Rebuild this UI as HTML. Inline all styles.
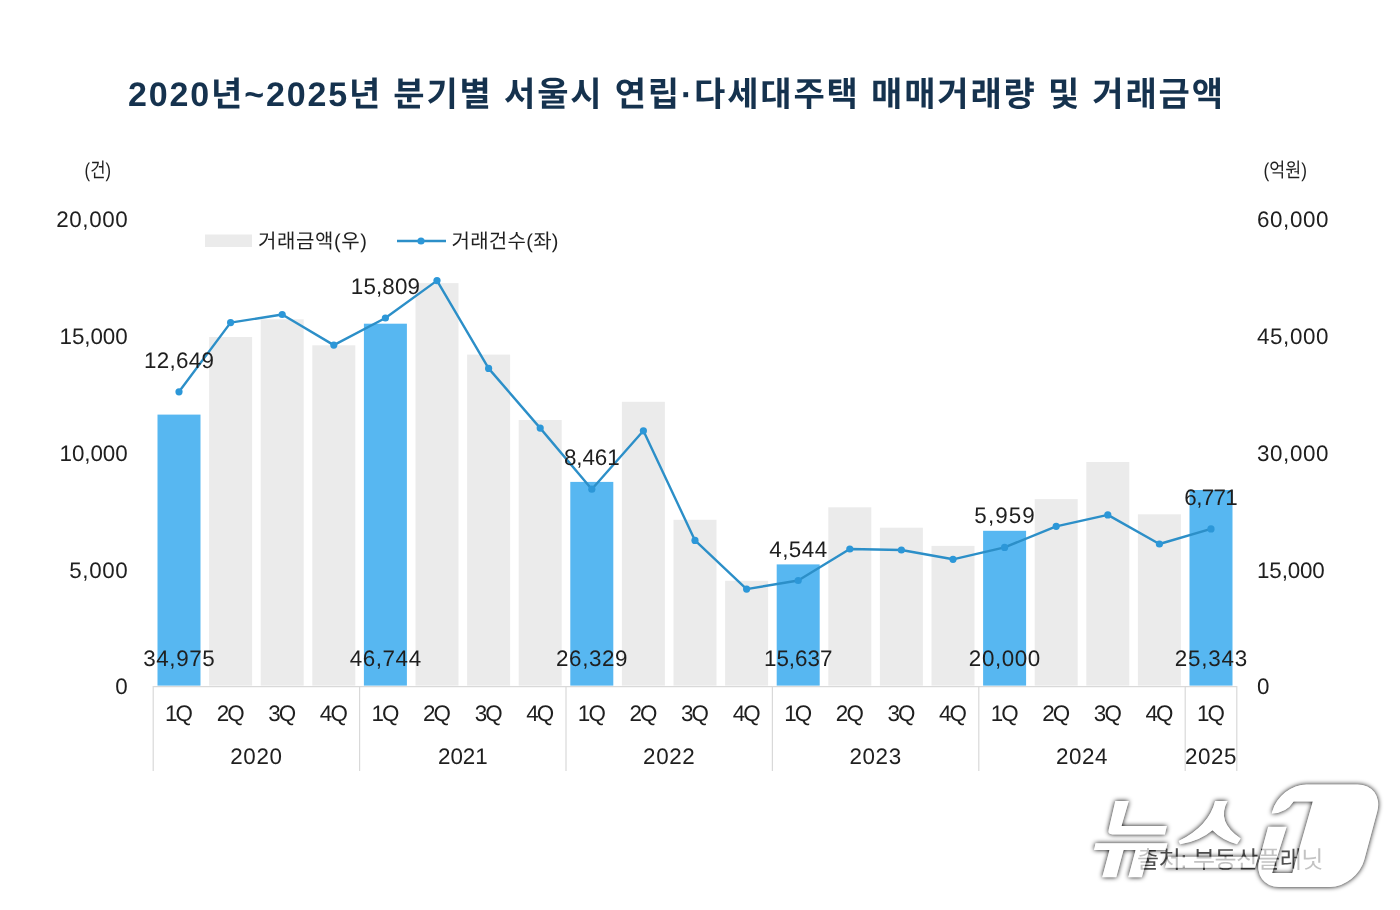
<!DOCTYPE html>
<html lang="ko"><head><meta charset="utf-8"><title>chart</title>
<style>
html,body{margin:0;padding:0;background:#fff}
body{width:1400px;height:910px;overflow:hidden;position:relative;font-family:"Liberation Sans",sans-serif}
svg{position:absolute;left:0;top:0;display:block;will-change:transform}
svg text{text-rendering:geometricPrecision;font-family:"Liberation Sans",sans-serif;font-size:22.4px;fill:#1f1f1f;letter-spacing:0.60px}
svg text.ko{font-family:"Liberation Sans","Noto Sans CJK KR","NanumGothic",sans-serif;stroke:none;letter-spacing:0}
</style></head><body>
<svg width="1400" height="910" viewBox="0 0 1400 910">
<defs><filter id="ws" x="-10%" y="-20%" width="120%" height="140%" color-interpolation-filters="sRGB"><feComponentTransfer in="SourceAlpha" result="sa"><feFuncA type="linear" slope="1.52"/></feComponentTransfer><feGaussianBlur in="sa" stdDeviation="2.8"/><feOffset dx="0" dy="0.2"/><feComponentTransfer><feFuncA type="linear" slope="1.0"/></feComponentTransfer><feComposite in2="sa" operator="out" result="sh"/><feMerge><feMergeNode in="sh"/><feMergeNode in="SourceGraphic"/></feMerge></filter><mask id="m1" maskUnits="userSpaceOnUse" x="1240" y="770" width="160" height="140"><rect x="1240" y="770" width="160" height="140" fill="#fff"/><path fill="#000" d="M1293.6 801.5L1312.8 801.5L1292.4 872.9L1272.1 872.9L1286.7 826.8L1258 826.8L1264 811L1272.1 813.5Q1286.7 812.9 1293.6 801.5Z"/></mask></defs>
<rect width="1400" height="910" fill="#fff"/>
<g id="title"><text class="ko" x="128" y="106" textLength="1095" lengthAdjust="spacing" style="font-size:34px;font-weight:bold;fill:#15324e">2020년~2025년 분기별 서울시 연립·다세대주택 매매거래량 및 거래금액</text></g>
<g id="bars"><rect x="157.5" y="414.6" width="43.0" height="271.0" fill="#57b7f1"/><rect x="209.1" y="337.0" width="43.0" height="348.6" fill="#ebebeb"/><rect x="260.7" y="319.3" width="43.0" height="366.3" fill="#ebebeb"/><rect x="312.3" y="345.3" width="43.0" height="340.3" fill="#ebebeb"/><rect x="363.9" y="323.7" width="43.0" height="361.9" fill="#57b7f1"/><rect x="415.5" y="283.1" width="43.0" height="402.5" fill="#ebebeb"/><rect x="467.1" y="354.6" width="43.0" height="331.0" fill="#ebebeb"/><rect x="518.7" y="420.0" width="43.0" height="265.6" fill="#ebebeb"/><rect x="570.3" y="481.9" width="43.0" height="203.7" fill="#57b7f1"/><rect x="621.9" y="401.8" width="43.0" height="283.8" fill="#ebebeb"/><rect x="673.5" y="519.8" width="43.0" height="165.8" fill="#ebebeb"/><rect x="725.1" y="580.8" width="43.0" height="104.8" fill="#ebebeb"/><rect x="776.7" y="564.4" width="43.0" height="121.2" fill="#57b7f1"/><rect x="828.3" y="507.3" width="43.0" height="178.3" fill="#ebebeb"/><rect x="879.9" y="527.7" width="43.0" height="157.9" fill="#ebebeb"/><rect x="931.5" y="545.9" width="43.0" height="139.7" fill="#ebebeb"/><rect x="983.1" y="530.8" width="43.0" height="154.8" fill="#57b7f1"/><rect x="1034.7" y="499.1" width="43.0" height="186.5" fill="#ebebeb"/><rect x="1086.3" y="462.0" width="43.0" height="223.6" fill="#ebebeb"/><rect x="1137.9" y="514.3" width="43.0" height="171.3" fill="#ebebeb"/><rect x="1189.5" y="490.0" width="43.0" height="195.6" fill="#57b7f1"/></g>
<g id="axis" stroke="#d9d9d9" stroke-width="1.2" fill="none"><path d="M153.2 686.6H1236.8"/><path d="M153.2 686.0V771"/><path d="M359.6 686.0V771"/><path d="M566.0 686.0V771"/><path d="M772.4 686.0V771"/><path d="M978.8 686.0V771"/><path d="M1185.2 686.0V771"/><path d="M1236.8 686.0V771"/></g>
<polyline points="179.0,391.8 230.6,322.6 282.2,314.5 333.8,345.1 385.4,318.0 437.0,280.6 488.6,368.4 540.2,428.1 591.8,489.2 643.4,430.8 695.0,540.4 746.6,589.1 798.2,580.5 849.8,549.0 901.4,550.0 953.0,559.3 1004.6,547.4 1056.2,526.3 1107.8,514.9 1159.4,544.0 1211.0,528.9" fill="none" stroke="#2c8fc8" stroke-width="2.4" stroke-linejoin="round"/>
<g fill="#2c97d8"><circle cx="179.0" cy="391.8" r="3.6"/><circle cx="230.6" cy="322.6" r="3.6"/><circle cx="282.2" cy="314.5" r="3.6"/><circle cx="333.8" cy="345.1" r="3.6"/><circle cx="385.4" cy="318.0" r="3.6"/><circle cx="437.0" cy="280.6" r="3.6"/><circle cx="488.6" cy="368.4" r="3.6"/><circle cx="540.2" cy="428.1" r="3.6"/><circle cx="591.8" cy="489.2" r="3.6"/><circle cx="643.4" cy="430.8" r="3.6"/><circle cx="695.0" cy="540.4" r="3.6"/><circle cx="746.6" cy="589.1" r="3.6"/><circle cx="798.2" cy="580.5" r="3.6"/><circle cx="849.8" cy="549.0" r="3.6"/><circle cx="901.4" cy="550.0" r="3.6"/><circle cx="953.0" cy="559.3" r="3.6"/><circle cx="1004.6" cy="547.4" r="3.6"/><circle cx="1056.2" cy="526.3" r="3.6"/><circle cx="1107.8" cy="514.9" r="3.6"/><circle cx="1159.4" cy="544.0" r="3.6"/><circle cx="1211.0" cy="528.9" r="3.6"/></g>
<rect x="205" y="234.5" width="47" height="12.5" fill="#ebebeb"/><path d="M397 241H446" stroke="#2c8fc8" stroke-width="2.4"/><circle cx="421" cy="241" r="3.6" fill="#2c97d8"/>
<text class="ko" x="258.0" y="248.0" textLength="109" lengthAdjust="spacing" style="font-size:20px;fill:#1f1f1f">거래금액(우)</text>
<text class="ko" x="451.5" y="248.0" textLength="107" lengthAdjust="spacing" style="font-size:20px;fill:#1f1f1f">거래건수(좌)</text>
<text class="ko" x="84.6" y="176.8" textLength="26.4" lengthAdjust="spacingAndGlyphs" style="font-size:20px;fill:#1f1f1f">(건)</text>
<text class="ko" x="1263.6" y="176.8" textLength="43.3" lengthAdjust="spacingAndGlyphs" style="font-size:20px;fill:#1f1f1f">(억원)</text>
<g id="yl" text-anchor="end"><text x="128.3" y="227.2">20,000</text><text x="127.6" y="343.9" style="letter-spacing:-0.08px">15,000</text><text x="127.6" y="460.7" style="letter-spacing:-0.08px">10,000</text><text x="128.3" y="577.5">5,000</text><text x="128.3" y="694.2">0</text></g>
<g id="yr"><text x="1257.0" y="227.2">60,000</text><text x="1257.0" y="343.9">45,000</text><text x="1257.0" y="460.7">30,000</text><text x="1257.0" y="577.5" style="letter-spacing:-0.14px">15,000</text><text x="1257.0" y="694.2">0</text></g>
<g id="cat" text-anchor="middle"><text x="178.1" y="721.1" style="letter-spacing:-1.9px">1Q</text><text x="229.7" y="721.1" style="letter-spacing:-1.9px">2Q</text><text x="281.3" y="721.1" style="letter-spacing:-1.9px">3Q</text><text x="332.9" y="721.1" style="letter-spacing:-1.9px">4Q</text><text x="384.5" y="721.1" style="letter-spacing:-1.9px">1Q</text><text x="436.1" y="721.1" style="letter-spacing:-1.9px">2Q</text><text x="487.7" y="721.1" style="letter-spacing:-1.9px">3Q</text><text x="539.3" y="721.1" style="letter-spacing:-1.9px">4Q</text><text x="590.9" y="721.1" style="letter-spacing:-1.9px">1Q</text><text x="642.5" y="721.1" style="letter-spacing:-1.9px">2Q</text><text x="694.1" y="721.1" style="letter-spacing:-1.9px">3Q</text><text x="745.7" y="721.1" style="letter-spacing:-1.9px">4Q</text><text x="797.3" y="721.1" style="letter-spacing:-1.9px">1Q</text><text x="848.9" y="721.1" style="letter-spacing:-1.9px">2Q</text><text x="900.5" y="721.1" style="letter-spacing:-1.9px">3Q</text><text x="952.1" y="721.1" style="letter-spacing:-1.9px">4Q</text><text x="1003.7" y="721.1" style="letter-spacing:-1.9px">1Q</text><text x="1055.3" y="721.1" style="letter-spacing:-1.9px">2Q</text><text x="1106.9" y="721.1" style="letter-spacing:-1.9px">3Q</text><text x="1158.5" y="721.1" style="letter-spacing:-1.9px">4Q</text><text x="1210.1" y="721.1" style="letter-spacing:-1.9px">1Q</text><text x="256.4" y="764.0">2020</text><text x="462.8" y="764.0" style="letter-spacing:-0.10px">2021</text><text x="669.2" y="764.0">2022</text><text x="875.6" y="764.0">2023</text><text x="1082.0" y="764.0">2024</text><text x="1211.0" y="764.0">2025</text></g>
<g id="dl" text-anchor="middle"><text x="179.1" y="367.8" style="letter-spacing:0.25px">12,649</text><text x="385.5" y="294.0" style="letter-spacing:0.15px">15,809</text><text x="591.8" y="465.2" style="letter-spacing:-0.10px">8,461</text><text x="798.4" y="556.5" style="letter-spacing:0.45px">4,544</text><text x="1005.1" y="523.4" style="letter-spacing:1.10px">5,959</text><text x="1210.7" y="504.9" style="letter-spacing:-0.67px">6,771</text><text x="179.3" y="665.6">34,975</text><text x="385.7" y="665.6">46,744</text><text x="592.1" y="665.6">26,329</text><text x="798.2" y="665.6" style="letter-spacing:0.00px">15,637</text><text x="1004.9" y="665.6">20,000</text><text x="1211.4" y="665.6" style="letter-spacing:0.80px">25,343</text></g>
<text class="ko" x="1137.1" y="867.8" textLength="186.3" lengthAdjust="spacing" style="font-size:24px;fill:#4f4f4f">출처: 부동산플래닛</text>
<g id="wm" filter="url(#ws)" fill="#fff" fill-opacity="0.66"><path d="M1115.3 801L1128.8 801L1121.5 826L1166.9 826L1164.9 834.4L1112.5 834.4Q1107.5 834.4 1108.7 829.5ZM1095.5 843.2L1167.5 843.2L1165.9 850L1149.2 850L1141.9 877.2L1128.3 877.2L1135.6 850L1123.6 850L1116.3 877.2L1102.2 877.2L1109.5 850L1094 850Z"/><path d="M1215.1 801L1227.6 801Q1216 822 1240.7 838.5L1237 844.3Q1222 840 1212.5 830.2Q1200 841 1180.1 844.3L1178.6 841.1Q1209 826 1215.1 801ZM1168 856.8L1258 856.8L1255 867.8L1165 867.8Z"/><g mask="url(#m1)"><path transform="translate(0,887) skewX(-15) translate(0,-887)" d="M1279 784.4H1330a27 27 0 0 1 27 27V860a27 27 0 0 1 -27 27H1279a27 27 0 0 1 -27 -27V811.4a27 27 0 0 1 27 -27Z"/></g></g>
</svg>
</body></html>
